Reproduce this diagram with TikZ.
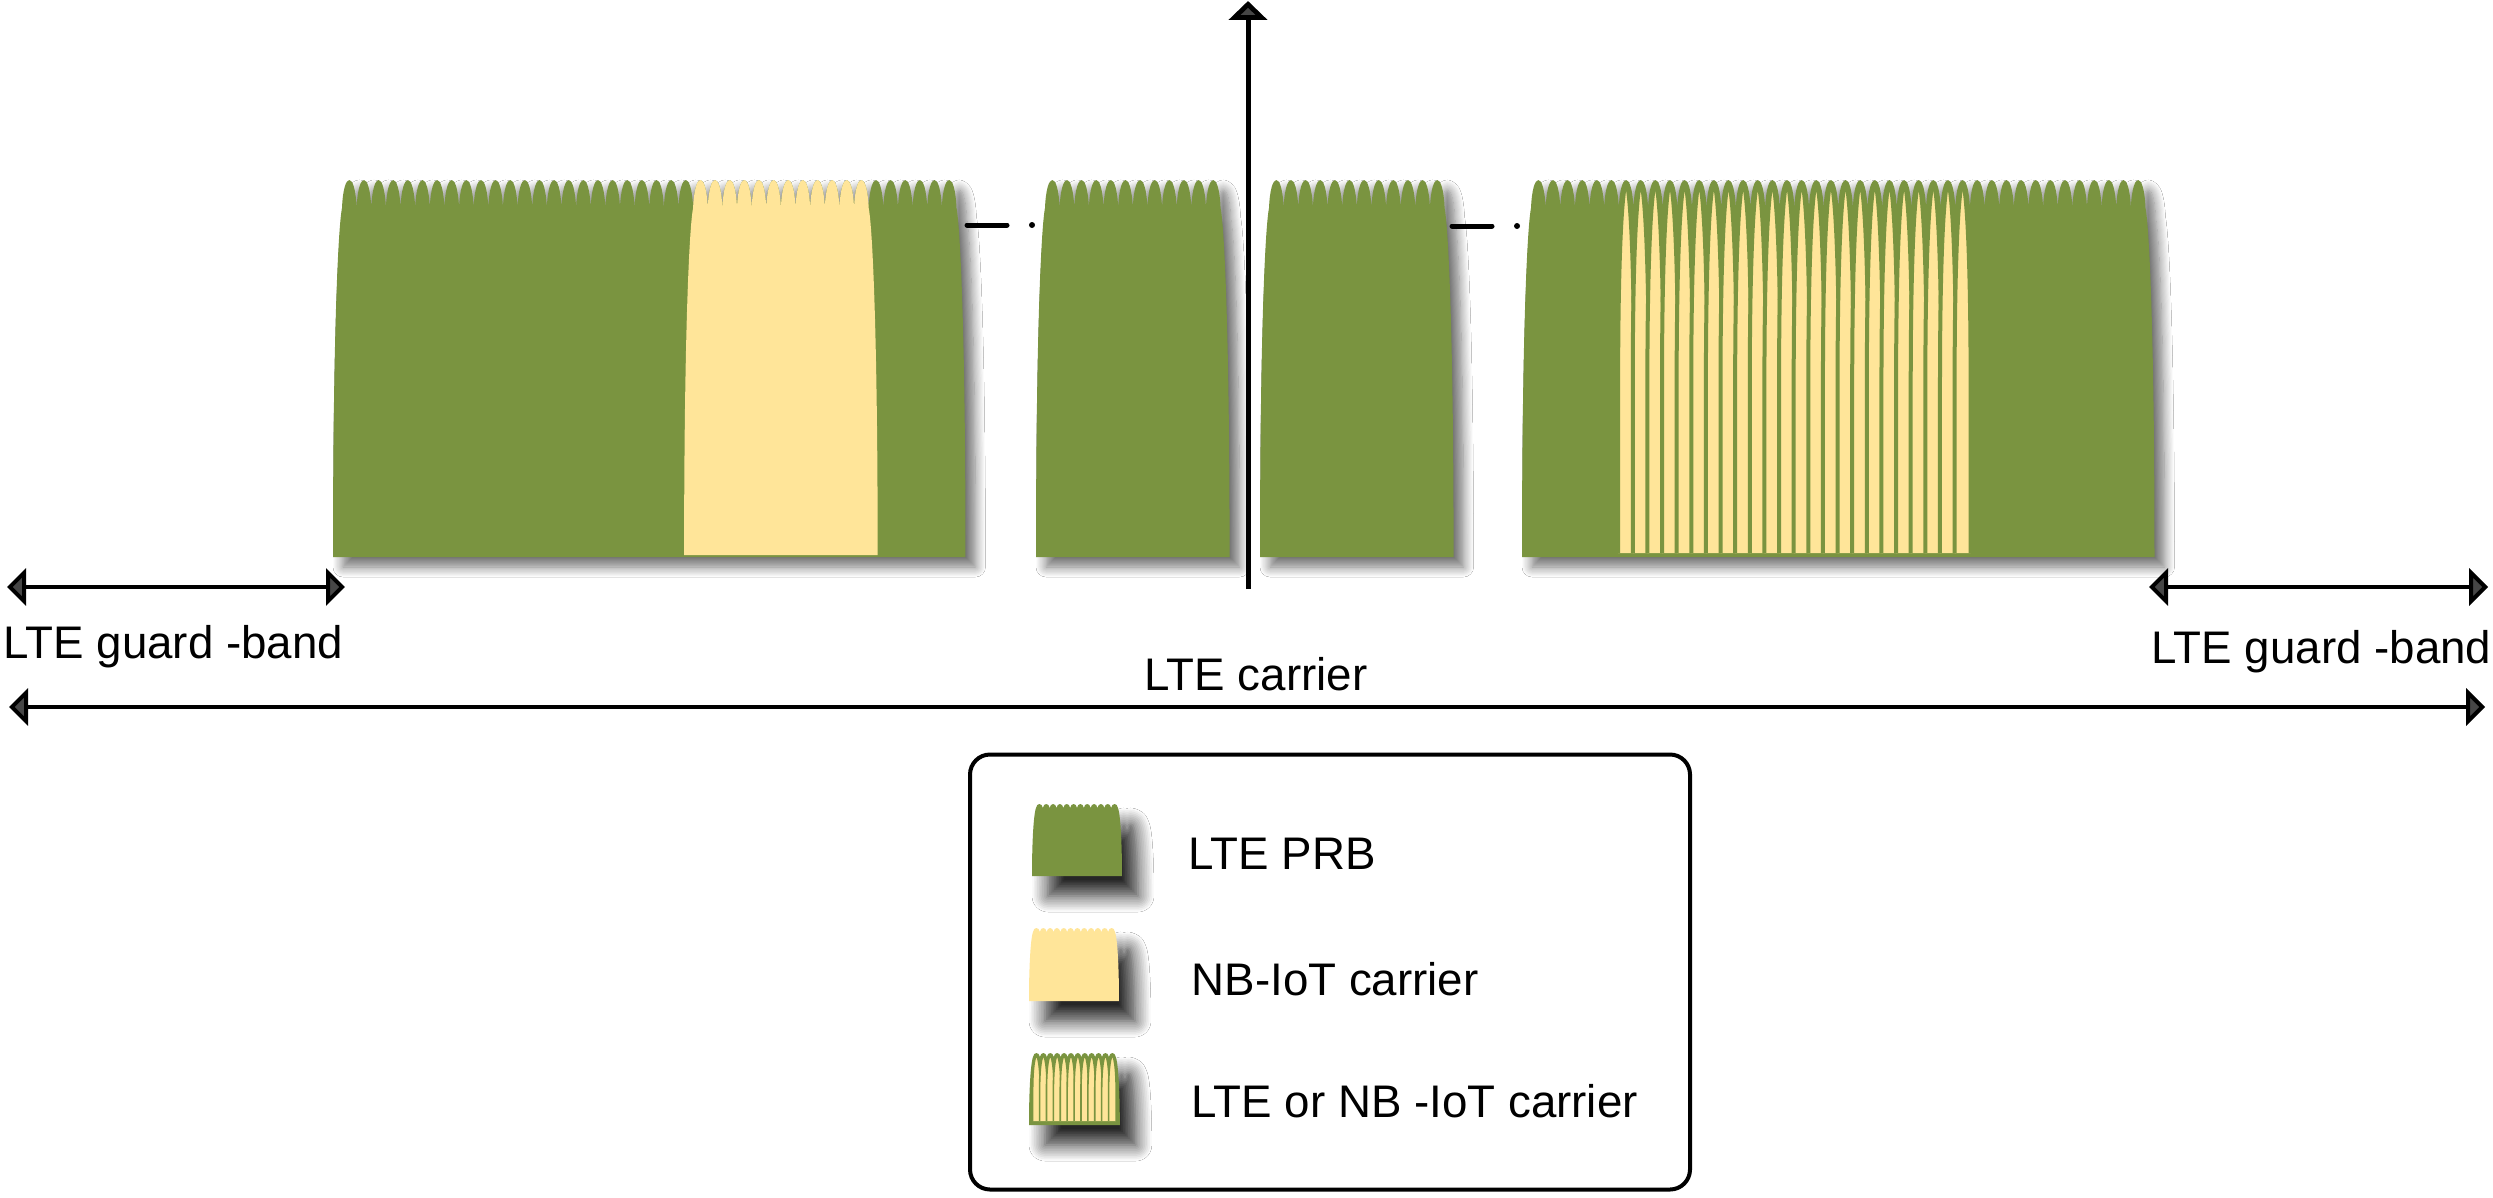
\documentclass[tikz,border=0pt]{standalone}
\usepackage{fontspec}
\setmainfont{Liberation Sans}
\usetikzlibrary{arrows.meta,shadows.blur}
\definecolor{prbgreen}{HTML}{7A9440}
\definecolor{nbyellow}{HTML}{FFE599}

% #1 left x at top, #2 peaks, #3 peak width, #4 top, #5 valley, #6 bottom, #7 flare
\newcommand{\prbpath}[7]{%
  ({#1-#7},#6) .. controls ({#1-#7},{#5+0.35*(#6-#5)}) and ({#1-0.4*#7},{#5+0.05*(#6-#5)}) .. ({#1},#5)
  \foreach \k in {1,...,#2}{ .. controls ({#1+(\k-0.9)*#3},{(#4-0.25*#5)/0.75}) and ({#1+(\k-0.1)*#3},{(#4-0.25*#5)/0.75}) .. ({#1+\k*#3},#5) }
  .. controls ({#1+#2*#3+0.4*#7},{#5+0.05*(#6-#5)}) and ({#1+#2*#3+#7},{#5+0.35*(#6-#5)}) .. ({#1+#2*#3+#7},#6) -- cycle}
% #1 centre x, #2 half width, #3 top, #4 bottom
\newcommand{\subcar}[4]{%
  ({#1-#2},#4) -- ({#1-#2},{#4-0.45*(#4-#3)}) .. controls ({#1-#2},{#3+0.12*(#4-#3)}) and ({#1-0.3*#2},#3) .. ({#1},#3)
  .. controls ({#1+0.3*#2},#3) and ({#1+#2},{#3+0.12*(#4-#3)}) .. ({#1+#2},{#4-0.45*(#4-#3)}) -- ({#1+#2},#4)}

\begin{document}
\begin{tikzpicture}[x=0.1mm, y=-0.1mm,
  prb/.style={fill=prbgreen},
  nb/.style={fill=nbyellow},
  shadowed/.style={blur shadow={shadow xshift=1mm, shadow yshift=-1mm,
                   shadow blur radius=1mm, shadow blur steps=10, shadow opacity=55}},
  keyshadow/.style={blur shadow={shadow xshift=1.6mm, shadow yshift=-2mm,
                   shadow blur radius=1.6mm, shadow blur steps=10, shadow opacity=85}},
  subc/.style={fill=nbyellow, draw=prbgreen, line width=0.4mm, line join=round},
  keysubc/.style={fill=nbyellow, draw=prbgreen, line width=0.16mm, line join=round},
  dbl/.style={{Triangle[length=1.9mm,width=3.7mm]}-{Triangle[length=1.9mm,width=3.7mm]}, line width=0.4mm},
  faxis/.style={-{Triangle[length=1.9mm,width=3.8mm]}, line width=0.5mm},
  dashgap/.style={line width=0.5mm, line cap=round},
  lbl/.style={font=\fontsize{13}{15}\selectfont, inner sep=0pt},
  legbox/.style={draw, line width=0.4mm, rounded corners=2mm, minimum width=72mm,
                 minimum height=43.5mm, inner sep=0pt}
]
\useasboundingbox[fill=white] (0,0) rectangle (2493,1197);

\fill[prb, shadowed] \prbpath{342}{42}{14.63}{180}{208}{557}{9};
\fill[nb] \prbpath{693.1}{12}{14.63}{180}{208}{555}{9};
\fill[prb, shadowed] \prbpath{1045}{12}{14.63}{180}{208}{557}{9};
\fill[prb, shadowed] \prbpath{1269}{12}{14.63}{180}{208}{557}{9};
\fill[prb, shadowed] \prbpath{1531}{42}{14.63}{180}{208}{557}{9};
\foreach \k in {6,...,29}{
  \pgfmathsetmacro\xc{1531+(\k+0.5)*14.63}
  \filldraw[subc] \subcar{\xc}{8}{183}{553};
}

\coordinate (d1a) at (967,225);
\coordinate (d1b) at (1007,225);
\coordinate (d2a) at (1452,226);
\coordinate (d2b) at (1492,226);
\draw[dashgap] (d1a) -- (d1b);
\fill (1032,225) circle (3);
\draw[dashgap] (d2a) -- (d2b);
\fill (1517,226) circle (3);

\coordinate (f0) at (1248,589);
\coordinate (f1) at (1248,1);
\draw[faxis] (f0) -- (f1);

\coordinate (gl0) at (7,587);
\coordinate (gl1) at (345,587);
\coordinate (gr0) at (2149,587);
\coordinate (gr1) at (2488,587);
\coordinate (cl) at (9,707);
\coordinate (cr) at (2485,707);
\draw[dbl] (gl0) -- (gl1);
\draw[dbl] (gr0) -- (gr1);
\draw[dbl] (cl) -- (cr);
\node[lbl, anchor=base west] (gbl) at (3,658) {LTE guard -band};
\node[lbl, anchor=base east] (gbr) at (2492,663) {LTE guard -band};
\node[lbl, anchor=base] (car) at (1256,690) {LTE carrier};

\node[legbox] (leg) at (1330,972) {};
\fill[prb, keyshadow] \prbpath{1036}{12}{6.83}{804}{808}{876}{4};
\fill[nb, keyshadow] \prbpath{1033}{12}{6.83}{928}{932}{1001}{4};
\fill[prb, keyshadow] \prbpath{1033}{12}{6.9}{1053}{1057}{1125}{4};
\foreach \k in {0,...,11}{
  \pgfmathsetmacro\xc{1033+(\k+0.5)*6.9}
  \filldraw[keysubc] \subcar{\xc}{3.8}{1056}{1121};
}
\node[lbl, anchor=base west] (k1) at (1188,869) {LTE PRB};
\node[lbl, anchor=base west] (k2) at (1191,995) {NB-IoT carrier};
\node[lbl, anchor=base west] (k3) at (1191,1117) {LTE or NB -IoT carrier};
\end{tikzpicture}
\end{document}
